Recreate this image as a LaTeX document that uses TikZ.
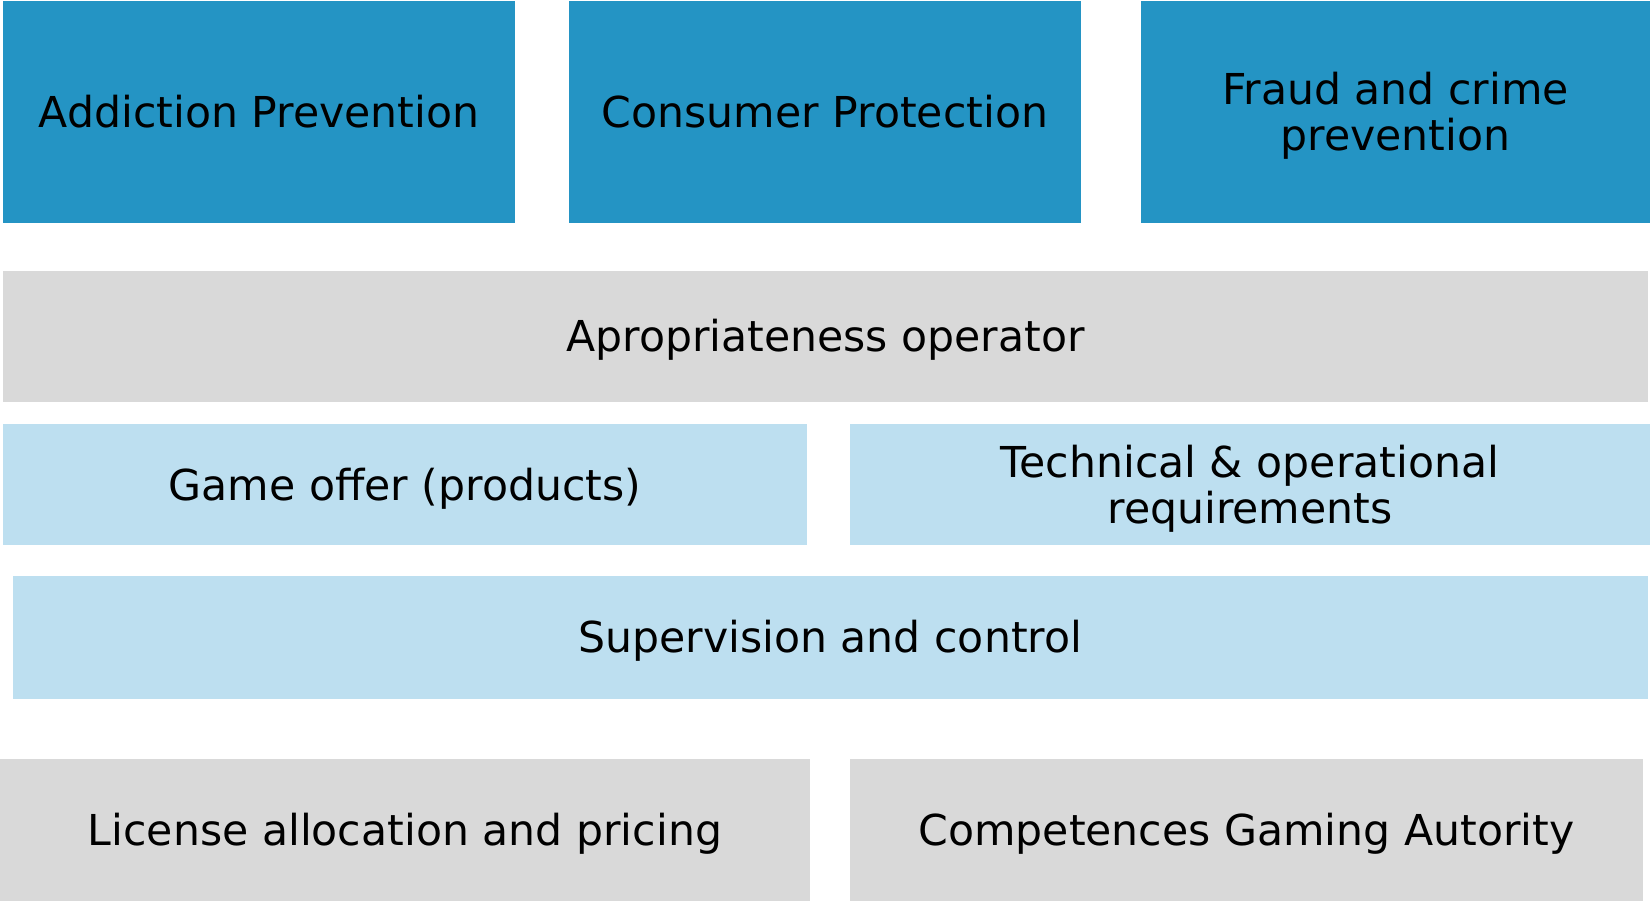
\documentclass[tikz,border=0pt]{standalone}
\usepackage{fontspec}
\setmainfont{DejaVu Sans}
\definecolor{darkblue}{RGB}{36,148,196}
\definecolor{lightgrey}{RGB}{217,217,217}
\definecolor{paleblue}{RGB}{189,223,240}
\tikzset{
  box/.style={rectangle, inner sep=0pt, outer sep=0pt, align=center,
    font=\fontsize{42.6}{46}\selectfont, text=black, text height=31pt, text depth=0pt},
  twoline/.style={text height=77pt, text depth=0pt},
  dark/.style={box, fill=darkblue},
  grey/.style={box, fill=lightgrey},
  pale/.style={box, fill=paleblue}
}
\begin{document}
\begin{tikzpicture}[x=1pt,y=-1pt]
\useasboundingbox[fill=white] (0,0) rectangle (1650,901);
\node[dark, minimum width=512pt, minimum height=222pt] (add) at (259,112) {Addiction Prevention};
\node[dark, minimum width=512pt, minimum height=222pt] (con) at (825,112) {Consumer Protection};
\node[dark, twoline, minimum width=509pt, minimum height=222pt] (fra) at (1395.5,112) {Fraud and crime\\prevention};
\node[grey, minimum width=1645pt, minimum height=131pt] (ope) at (825.5,336.5) {Apropriateness operator};
\node[pale, minimum width=804pt, minimum height=121pt] (gam) at (405,484.5) {Game offer (products)};
\node[pale, twoline, minimum width=800pt, minimum height=121pt] (tec) at (1250,484.5) {Technical \& operational\\requirements};
\node[pale, minimum width=1635.5pt, minimum height=123.5pt] (sup) at (830.25,637.25) {Supervision and control};
\node[grey, minimum width=810pt, minimum height=142pt] (lic) at (405,830) {License allocation and pricing};
\node[grey, minimum width=793pt, minimum height=142pt] (com) at (1246.5,830) {Competences Gaming Autority};
\end{tikzpicture}
\end{document}
